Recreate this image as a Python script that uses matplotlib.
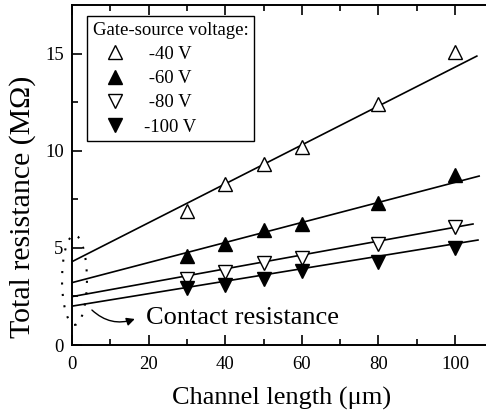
import numpy as np
import matplotlib
matplotlib.use("Agg")
import matplotlib.pyplot as plt
from matplotlib.patches import Ellipse

plt.rcParams['font.family'] = ['Liberation Serif', 'DejaVu Serif']
plt.rcParams['mathtext.fontset'] = 'stix'

# ---- data ----
channel_length = [30, 40, 50, 60, 80, 100]
labels = ["-40 V", "-60 V", "-80 V", "-100 V"]
r_m40 = [6.9, 8.3, 9.3, 10.2, 12.4, 15.08]
r_m60 = [4.56, 5.2, 5.9, 6.25, 7.3, 8.75]
r_m80 = [3.4, 3.75, 4.2, 4.5, 5.2, 6.07]
r_m100 = [2.95, 3.1, 3.4, 3.8, 4.25, 4.99]
fit_intercept = [4.29, 3.21, 2.49, 2.0]
fit_slope = [0.1001, 0.0516, 0.0357, 0.0321]
fit_x_end = [105.7, 106.3, 104.7, 106.0]

series = [r_m40, r_m60, r_m80, r_m100]
markers = ['^', '^', 'v', 'v']
faces = ['white', 'black', 'white', 'black']

W, H = 486, 416
fig = plt.figure(figsize=(W / 100, H / 100), dpi=100)
ax_left, ax_bottom, ax_top = 72, 416 - 345, 416 - 5
px_per_x = 3.83
xmax = 112
ax_w = xmax * px_per_x
ax_h = ax_top - ax_bottom
ax = fig.add_axes([ax_left / W, ax_bottom / H, ax_w / W, ax_h / H])
ax.set_xlim(0, xmax)
ax.set_ylim(0, 17.5)

handles = []
for vals, m, fc, b, s, xe, lab in zip(series, markers, faces, fit_intercept, fit_slope, fit_x_end, labels):
    xs = np.array([0, xe])
    ax.plot(xs, b + s * xs, color='black', lw=1.2, zorder=2)
    h, = ax.plot(channel_length, vals, linestyle='none', marker=m, ms=9.5,
                 mfc=fc, mec='black', mew=1.0, zorder=3,
                 label=" " + lab if lab != "-100 V" else lab)
    handles.append(h)

# contact resistance annotation
ell = Ellipse((0.65, 3.35), 6.5, 4.63, fill=False, edgecolor='black',
              linestyle=(0, (1, 4.5)), lw=1.5, clip_on=False, zorder=4)
ax.add_patch(ell)
ax.annotate("", xy=(16.4, 1.34), xytext=(5.2, 1.8),
            arrowprops=dict(arrowstyle='-|>', color='black', lw=1.0,
                            connectionstyle='arc3,rad=0.3', mutation_scale=12,
                            shrinkA=0, shrinkB=0))
ax.text(19.4, 1.39, "Contact resistance", fontsize=19, va='center', ha='left')

ax.set_xticks([0, 20, 40, 60, 80, 100])
ax.set_xticks(np.arange(10, 111, 20), minor=True)
ax.set_yticks([0, 5, 10, 15])
ax.set_yticks([2.5, 7.5, 12.5], minor=True)
ax.tick_params(which='both', direction='in', top=True, right=False, labelsize=13.5, width=1.2)
ax.tick_params(which='major', length=7, pad=6)
ax.tick_params(axis='x', which='major', pad=8)
ax.tick_params(which='minor', length=4)
for sp in ax.spines.values():
    sp.set_linewidth(1.4)

ax.set_xlabel("Channel length (μm)", fontsize=19, va='center')
ax.set_ylabel("Total resistance (MΩ)", fontsize=21.5, va='center')
ax.xaxis.set_label_coords((282 - ax_left) / ax_w, (345 - 398) / ax_h, transform=ax.transAxes)
ax.yaxis.set_label_coords((23 - ax_left) / ax_w, (345 - 207) / ax_h, transform=ax.transAxes)

leg = ax.legend(handles=handles, title="Gate-source voltage:", loc='upper left',
                bbox_to_anchor=((87 - ax_left) / ax_w, (345 - 16) / ax_h),
                fontsize=13.5, title_fontsize=13.5, frameon=True, fancybox=False,
                edgecolor='black', framealpha=1, borderpad=0.3, labelspacing=0.38,
                handlelength=2.4, handletextpad=0.35, borderaxespad=0,
                alignment='left')
leg.get_frame().set_linewidth(1.0)

fig.savefig("out.png", dpi=100)
